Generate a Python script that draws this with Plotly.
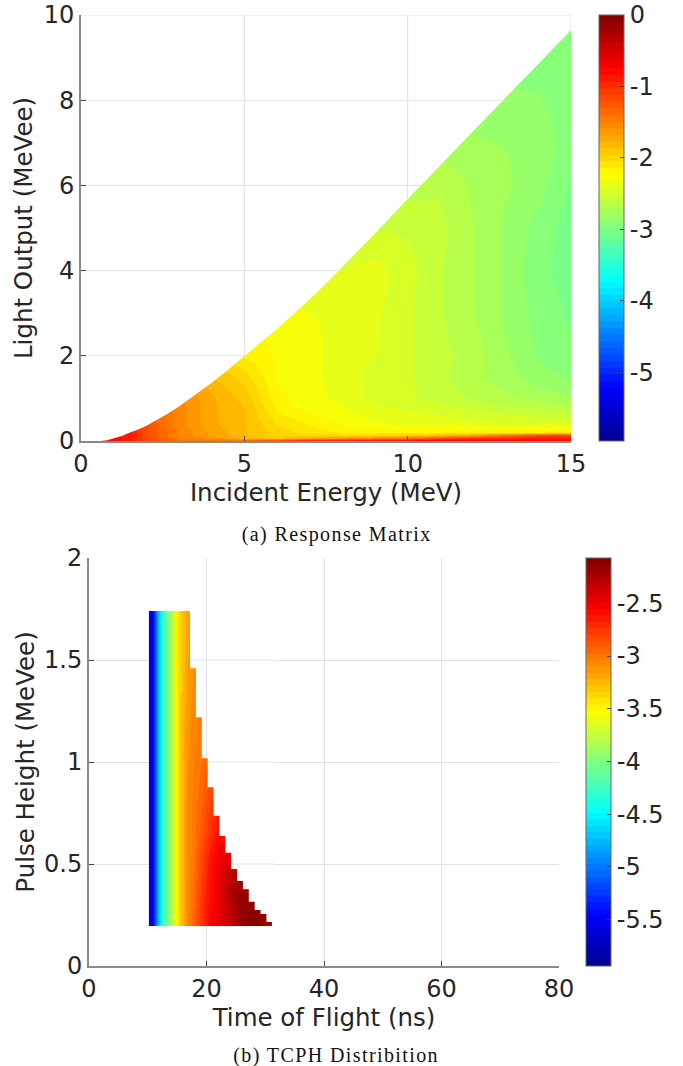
import numpy as np
import plotly.graph_objects as go

W, H = 683, 1066
RIGHT_MARGIN = 100
PW = W - RIGHT_MARGIN

# ---------- (a) Response matrix ----------
energy = [0.5, 1, 1.5, 2, 3, 4, 5, 6, 7, 8, 9, 10, 11, 12, 13, 14, 15]
light = [0, 0.03, 0.08, 0.14, 0.2, 0.4, 0.7, 1, 1.5, 2, 3, 4, 5, 6, 7, 8, 9, 10]
response = [
    [-0.8, -0.8, -0.9, -1.0, -1.3, -0.9, -0.6, -0.6, -0.5, -0.5, -0.55, -0.6, -0.7, -0.75, -0.8, -0.85, -0.9],
    [-0.8, -0.8, -0.9, -1.1, -1.4, -1.4, -1.4, -1.2, -1.0, -0.95, -0.9, -0.85, -0.8, -0.8, -0.8, -0.8, -0.8],
    [-0.8, -0.8, -0.9, -1.2, -1.5, -1.6, -1.8, -1.9, -1.7, -1.6, -1.5, -1.4, -1.2, -1.0, -0.95, -0.9, -0.9],
    [-0.8, -0.8, -0.9, -1.2, -1.5, -1.7, -1.85, -2.0, -2.0, -2.0, -2.0, -1.95, -1.85, -1.7, -1.4, -1.2, -1.1],
    [-0.8, -0.8, -0.9, -1.2, -1.5, -1.7, -1.85, -2.0, -2.1, -2.15, -2.15, -2.15, -2.15, -2.15, -2.15, -2.15, -2.1],
    [-0.8, -0.8, -0.9, -1.2, -1.55, -1.75, -1.85, -2.05, -2.15, -2.25, -2.3, -2.35, -2.35, -2.4, -2.4, -2.42, -2.42],
    [-0.8, -0.8, -0.9, -1.2, -1.55, -1.75, -1.85, -2.15, -2.25, -2.3, -2.38, -2.42, -2.45, -2.5, -2.55, -2.58, -2.6],
    [-0.8, -0.8, -0.9, -1.2, -1.55, -1.75, -1.9, -2.2, -2.3, -2.35, -2.45, -2.5, -2.55, -2.62, -2.68, -2.72, -2.78],
    [-0.8, -0.8, -0.9, -1.2, -1.6, -1.85, -2.0, -2.25, -2.3, -2.38, -2.45, -2.5, -2.58, -2.68, -2.75, -2.85, -2.9],
    [-0.8, -0.8, -0.9, -1.2, -1.7, -2.0, -2.15, -2.25, -2.3, -2.38, -2.42, -2.5, -2.58, -2.65, -2.78, -2.9, -2.95],
    [-0.8, -0.8, -0.9, -1.2, -1.7, -2.0, -2.2, -2.3, -2.33, -2.33, -2.4, -2.5, -2.6, -2.7, -2.82, -2.92, -3.0],
    [-0.8, -0.8, -0.9, -1.2, -1.7, -2.0, -2.2, -2.3, -2.4, -2.42, -2.38, -2.48, -2.6, -2.7, -2.82, -2.95, -3.03],
    [-0.8, -0.8, -0.9, -1.2, -1.7, -2.0, -2.2, -2.3, -2.4, -2.5, -2.52, -2.53, -2.58, -2.7, -2.82, -2.92, -3.03],
    [-0.8, -0.8, -0.9, -1.2, -1.7, -2.0, -2.2, -2.3, -2.4, -2.5, -2.6, -2.65, -2.62, -2.72, -2.78, -2.85, -3.0],
    [-0.8, -0.8, -0.9, -1.2, -1.7, -2.0, -2.2, -2.3, -2.4, -2.5, -2.6, -2.72, -2.76, -2.78, -2.8, -2.8, -2.97],
    [-0.8, -0.8, -0.9, -1.2, -1.7, -2.0, -2.2, -2.3, -2.4, -2.5, -2.6, -2.75, -2.82, -2.85, -2.87, -2.88, -2.95],
    [-0.8, -0.8, -0.9, -1.2, -1.7, -2.0, -2.2, -2.3, -2.4, -2.5, -2.6, -2.75, -2.85, -2.9, -2.92, -2.92, -2.95],
    [-0.8, -0.8, -0.9, -1.2, -1.7, -2.0, -2.2, -2.3, -2.4, -2.5, -2.6, -2.75, -2.85, -2.9, -2.92, -2.92, -2.95],
]
# Upper edge of the populated region of the response matrix
edge_energy = [0, 0.6, 0.8, 1, 1.25, 1.5, 1.75, 2, 2.5, 3, 3.5, 4, 4.5, 5, 5.5, 6, 6.5, 7, 7.5, 8, 9, 10, 11, 12, 13, 14, 15]
edge_light = [0, 0, 0.02, 0.06, 0.12, 0.2, 0.27, 0.36, 0.57, 0.81, 1.08, 1.37, 1.67, 2.0, 2.31, 2.63, 2.97, 3.33, 3.7, 4.09, 4.87, 5.68, 6.47, 7.26, 8.06, 8.85, 9.65]

# ---------- (b) TCPH distribution ----------
tof_edges = [10.2, 11.2, 12.2, 13.2, 14.2, 15.2, 16.2, 17.2, 18.2, 19.2, 20.2, 21.2,
             22.2, 23.2, 24.2, 25.2, 26.2, 27.2, 28.2, 29.2, 30.2, 31.2]
ph_edges = [0.196, 0.3, 0.4, 0.5, 0.6, 0.7, 0.8, 1.0, 1.2, 1.4, 1.6, 1.74]
tcph = [
    [-5.55, -4.74, -4.2, -3.89, -3.52, -3.29, -3.08, -2.95, -2.8, -2.65, -2.55, -2.5, -2.42, -2.35, -2.28, -2.18, -2.12, -2.1, -2.12, -2.15, -2.2],
    [-5.55, -4.74, -4.2, -3.89, -3.52, -3.29, -3.08, -2.97, -2.82, -2.68, -2.58, -2.5, -2.42, -2.3, -2.2, -2.15, -2.2, -2.2, -2.2, -2.2, -2.2],
    [-5.55, -4.74, -4.2, -3.89, -3.52, -3.29, -3.08, -3.0, -2.85, -2.72, -2.6, -2.52, -2.42, -2.32, -2.3, -2.3, -2.3, -2.3, -2.3, -2.3, -2.3],
    [-5.55, -4.74, -4.2, -3.89, -3.52, -3.29, -3.08, -3.02, -2.88, -2.75, -2.62, -2.55, -2.5, -2.5, -2.5, -2.5, -2.5, -2.5, -2.5, -2.5, -2.5],
    [-5.55, -4.74, -4.2, -3.89, -3.52, -3.29, -3.08, -3.02, -2.92, -2.82, -2.72, -2.62, -2.6, -2.6, -2.6, -2.6, -2.6, -2.6, -2.6, -2.6, -2.6],
    [-5.55, -4.74, -4.2, -3.89, -3.52, -3.29, -3.08, -3.02, -2.95, -2.85, -2.76, -2.68, -2.65, -2.65, -2.65, -2.65, -2.65, -2.65, -2.65, -2.65, -2.65],
    [-5.55, -4.74, -4.2, -3.89, -3.52, -3.29, -3.1, -3.03, -2.98, -2.9, -2.82, -2.8, -2.8, -2.8, -2.8, -2.8, -2.8, -2.8, -2.8, -2.8, -2.8],
    [-5.55, -4.74, -4.2, -3.89, -3.52, -3.3, -3.12, -3.05, -3.02, -2.98, -2.95, -2.95, -2.95, -2.95, -2.95, -2.95, -2.95, -2.95, -2.95, -2.95, -2.95],
    [-5.55, -4.74, -4.2, -3.89, -3.52, -3.3, -3.15, -3.08, -3.05, -3.02, -3.0, -3.0, -3.0, -3.0, -3.0, -3.0, -3.0, -3.0, -3.0, -3.0, -3.0],
    [-5.55, -4.74, -4.2, -3.89, -3.52, -3.32, -3.17, -3.1, -3.08, -3.05, -3.05, -3.05, -3.05, -3.05, -3.05, -3.05, -3.05, -3.05, -3.05, -3.05, -3.05],
    [-5.55, -4.74, -4.2, -3.89, -3.52, -3.32, -3.18, -3.15, -3.1, -3.1, -3.1, -3.1, -3.1, -3.1, -3.1, -3.1, -3.1, -3.1, -3.1, -3.1, -3.1],
]
# Staircase upper edge: right end of each time bin and the top pulse height there
step_tof = [17.2, 18.2, 19.2, 20.2, 21.2, 22.2, 23.2, 24.2, 25.2, 26.2, 27.2, 28.2, 29.2, 30.2, 31.2]
step_ph = [1.74, 1.459, 1.219, 1.018, 0.876, 0.737, 0.637, 0.555, 0.475, 0.417, 0.376, 0.315, 0.275, 0.255, 0.216]

# ---------- ticks / labels ----------
a_xticks = [0, 5, 10, 15]
a_yticks = [0, 2, 4, 6, 8, 10]
a_cticks = [0, -1, -2, -3, -4, -5]
b_xticks = [0, 20, 40, 60, 80]
b_yticks = [0, 0.5, 1, 1.5, 2]
b_cticks = [-2.5, -3, -3.5, -4, -4.5, -5, -5.5]

INK = "#262626"
GRID = "#e1e1e1"
AX = "#8a8a8a"
FS = 24


def jet_scale(n=64):
    anchors = [0, 1 / 8, 3 / 8, 5 / 8, 7 / 8, 1]
    r = [0, 0, 0, 1, 1, 0.5]
    g = [0, 0, 1, 1, 0, 0]
    b = [0.5625, 1, 1, 0, 0, 0]
    scale = []
    for i in range(n):
        f = (i + 0.5) / n
        col = "rgb(%d,%d,%d)" % tuple(round(255 * np.interp(f, anchors, c)) for c in (r, g, b))
        scale += [[i / n, col], [(i + 1) / n, col]]
    return scale


def px_x(a, b):
    return [a / PW, b / PW]


def px_y(top, bottom):
    return [(H - bottom) / H, (H - top) / H]


def colorbar(left, top, bottom, ticks):
    return dict(
        xref="container", yref="container",
        x=left / W, xanchor="left", y=(H - bottom) / H, yanchor="bottom",
        len=(bottom - top) / H, lenmode="fraction",
        thickness=25, thicknessmode="pixels",
        outlinecolor="#666666", outlinewidth=1,
        tickmode="array", tickvals=ticks, ticktext=[str(t) for t in ticks],
        ticks="inside", ticklen=4, tickcolor="#444444", tickwidth=1,
        tickfont=dict(family="DejaVu Sans", size=FS, color=INK),
        xpad=0, ypad=0,
    )


fig = go.Figure()

# Panel a
fig.add_trace(go.Heatmap(
    x=energy, y=light, z=response, xaxis="x", yaxis="y",
    zmin=-5.96, zmax=0, zsmooth="best", colorscale=jet_scale(),
    colorbar=colorbar(599, 15, 441, a_cticks), hoverinfo="skip",
))
fig.add_trace(go.Scatter(
    x=edge_energy + [15.5, 15.5, 0], y=edge_light + [9.65, 10.2, 10.2], xaxis="x", yaxis="y",
    mode="lines", line=dict(width=0), fill="toself", fillcolor="white",
    showlegend=False, hoverinfo="skip", cliponaxis=True,
))
gx, gy = [], []
for t in a_xticks[1:]:
    gx += [t, t, None]
    gy += [float(np.interp(t, edge_energy, edge_light)), 10, None]
for t in a_yticks[1:]:
    gx += [0, float(np.interp(t, edge_light, edge_energy)), None]
    gy += [t, t, None]
fig.add_trace(go.Scatter(
    x=gx, y=gy, xaxis="x", yaxis="y", mode="lines",
    line=dict(color=GRID, width=1), showlegend=False, hoverinfo="skip",
))

# Panel b
fig.add_trace(go.Heatmap(
    x=tof_edges, y=ph_edges, z=tcph, xaxis="x2", yaxis="y2",
    zmin=-5.94, zmax=-2.07, zsmooth="best", colorscale=jet_scale(),
    colorbar=colorbar(586, 558, 966, b_cticks), hoverinfo="skip",
))
mask_right = step_tof[-1] + 0.3
mask_top = step_ph[0] + 0.02
mx, my = [step_tof[0]], [step_ph[0]]
for i in range(1, len(step_tof)):
    mx += [step_tof[i - 1], step_tof[i]]
    my += [step_ph[i], step_ph[i]]
mx += [mask_right, mask_right, step_tof[0], step_tof[0]]
my += [step_ph[-1], mask_top, mask_top, step_ph[0]]
fig.add_trace(go.Scatter(
    x=mx, y=my, xaxis="x2", yaxis="y2", mode="lines",
    line=dict(width=0), fill="toself", fillcolor="white",
    showlegend=False, hoverinfo="skip",
))
hx, hy = [], []
for t in b_xticks:
    if step_tof[0] < t < step_tof[-1]:
        k = int(np.searchsorted(step_tof, t))
        hx += [t, t, None]
        hy += [step_ph[k], mask_top, None]
for t in b_yticks:
    if step_ph[-1] < t < step_ph[0]:
        k = next(i for i, p in enumerate(step_ph) if p < t)
        hx += [step_tof[k - 1], mask_right, None]
        hy += [t, t, None]
fig.add_trace(go.Scatter(
    x=hx, y=hy, xaxis="x2", yaxis="y2", mode="lines",
    line=dict(color=GRID, width=1), showlegend=False, hoverinfo="skip",
))


def axis(domain, rng, ticks, title, standoff, anchor):
    return dict(
        domain=domain, range=rng, anchor=anchor, tickmode="array", tickvals=ticks,
        ticktext=[str(t) for t in ticks], ticks="inside", ticklen=5, tickcolor="#444444",
        tickwidth=1, showgrid=True, gridcolor=GRID, gridwidth=1, zeroline=False,
        showline=True, linecolor=AX, linewidth=2, layer="above traces",
        tickfont=dict(family="DejaVu Sans", size=FS, color=INK),
        title=dict(text=title, standoff=standoff, font=dict(family="DejaVu Sans", size=24.5, color=INK)),
        automargin=False,
    )


CAPTION = dict(family="Liberation Serif", size=20, color="#111111")

fig.update_layout(
    width=W, height=H, margin=dict(l=0, r=RIGHT_MARGIN, t=0, b=0),
    paper_bgcolor="white", plot_bgcolor="white", showlegend=False,
    xaxis=axis(px_x(81, 571), [0, 15], a_xticks, "Incident Energy (MeV)", 7, "y"),
    yaxis=axis(px_y(15, 441), [0, 10], a_yticks, "Light Output (MeVee)", 4, "x"),
    xaxis2=axis(px_x(89, 559), [0, 80], b_xticks, "Time of Flight (ns)", 3, "y2"),
    yaxis2=axis(px_y(558, 966), [0, 2], b_yticks, "Pulse Height (MeVee)", 2, "x2"),
    annotations=[
        dict(text="(a) Response Matrix", xref="paper", yref="paper", x=336 / PW, y=(H - 534) / H,
             xanchor="center", yanchor="middle", showarrow=False, font=CAPTION),
        dict(text="(b) TCPH Distribition", xref="paper", yref="paper", x=336 / PW, y=(H - 1055) / H,
             xanchor="center", yanchor="middle", showarrow=False, font=CAPTION),
    ],
)

css = ("var s=document.createElement('style');"
       "s.textContent='body{margin:0}.annotation-text{letter-spacing:1.4px}';"
       "document.head.appendChild(s);")
fig.write_html("out.html", post_script=css, config={"displayModeBar": False})
